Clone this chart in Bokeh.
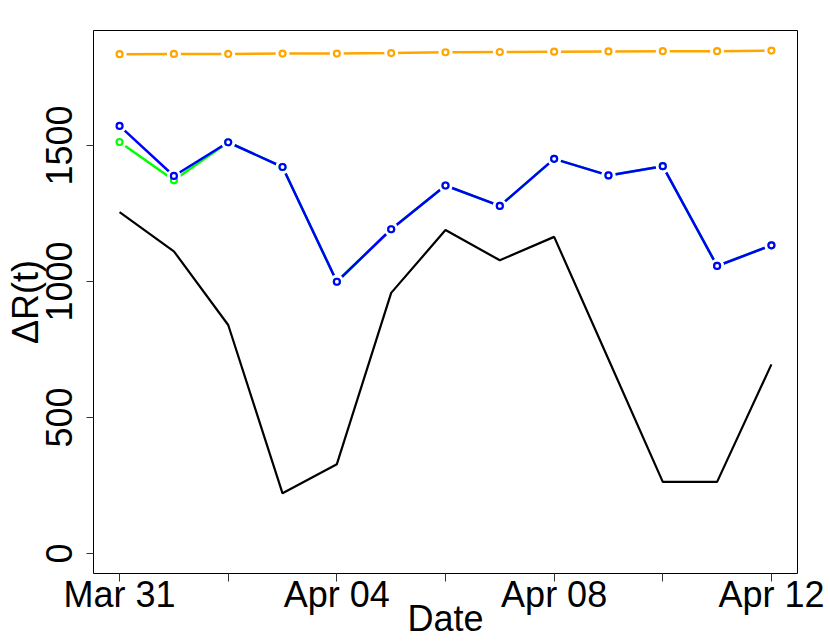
import pandas as pd
from bokeh.plotting import figure
from bokeh.models import Range1d, FixedTicker, DatetimeTickFormatter, ColumnDataSource
from bokeh.embed import file_html
from bokeh.resources import INLINE

# ---- data ----
dates = pd.date_range("2020-03-31", "2020-04-12", freq="D")
orange_vals = [1836, 1837, 1837, 1838, 1838, 1840, 1843, 1844, 1845, 1846, 1847, 1847, 1849]
blue_vals = [1572, 1388, 1512, 1421, 999, 1192, 1353, 1278, 1451, 1390, 1424, 1057, 1133]
green_vals = [1513, 1372, 1512, 1421, 999, 1192, 1353, 1278, 1451, 1390, 1424, 1057, 1133]
black_vals = [1255, 1111, 840, 221, 328, 958, 1189, 1078, 1164, 714, 263, 263, 695]
x_major = pd.to_datetime(["2020-03-31", "2020-04-04", "2020-04-08", "2020-04-12"])
x_minor = pd.to_datetime(["2020-04-02", "2020-04-06", "2020-04-10"])
y_ticks = [0, 500, 1000, 1500]

FONT = "Liberation Sans"
DAY = 86400000.0

def ms(t):
    return pd.Timestamp(t).value / 1e6

src = ColumnDataSource(dict(x=dates, orange=orange_vals, blue=blue_vals,
                            green=green_vals, black=black_vals))

x0 = ms(dates[0]) - 0.48 * DAY
x1 = ms(dates[-1]) + 0.48 * DAY

p = figure(width=830, height=642, x_axis_type="datetime",
           x_range=Range1d(x0, x1), y_range=Range1d(-74, 1923),
           output_backend="svg", toolbar_location=None,
           min_border_left=93, min_border_right=33,
           min_border_top=30, min_border_bottom=69)

p.grid.visible = False
p.background_fill_color = "white"
p.border_fill_color = "white"
p.outline_line_color = "black"
p.outline_line_width = 1

# x axis
p.xaxis.ticker = FixedTicker(ticks=[ms(t) for t in x_major], minor_ticks=[ms(t) for t in x_minor])
p.xaxis.formatter = DatetimeTickFormatter(days="%b %d", months="%b %d", hours="%b %d")
p.xaxis.axis_line_color = None
p.xaxis.major_tick_in = 0
p.xaxis.major_tick_out = 8
p.xaxis.minor_tick_in = 0
p.xaxis.minor_tick_out = 8
p.xaxis.major_tick_line_color = "#333333"
p.xaxis.minor_tick_line_color = "#333333"
p.xaxis.major_label_text_font = FONT
p.xaxis.major_label_text_font_size = "36px"
p.xaxis.major_label_text_color = "black"
p.xaxis.major_label_standoff = -8
p.xaxis.axis_label = "Date"
p.xaxis.axis_label_text_font = FONT
p.xaxis.axis_label_text_font_size = "36px"
p.xaxis.axis_label_text_font_style = "normal"
p.xaxis.axis_label_text_color = "black"
p.xaxis.axis_label_standoff = -20

# y axis
p.yaxis.ticker = FixedTicker(ticks=y_ticks, minor_ticks=[])
p.yaxis.axis_line_color = None
p.yaxis.major_tick_in = 0
p.yaxis.major_tick_out = 7
p.yaxis.major_tick_line_color = "#333333"
p.yaxis.major_label_orientation = "vertical"
p.yaxis.major_label_text_font = FONT
p.yaxis.major_label_text_font_size = "36px"
p.yaxis.major_label_text_color = "black"
p.yaxis.major_label_standoff = 14
p.yaxis.axis_label = "ΔR(t)"
p.yaxis.axis_label_text_font = FONT
p.yaxis.axis_label_text_font_size = "36px"
p.yaxis.axis_label_text_font_style = "normal"
p.yaxis.axis_label_text_color = "black"
p.yaxis.axis_label_standoff = -2

# lines
p.line("x", "black", source=src, color="black", line_width=2.2)
p.line("x", "green", source=src, color="#00FF00", line_width=2.5)
p.line("x", "blue", source=src, color="#0000FF", line_width=2.5)
p.line("x", "orange", source=src, color="#FFA500", line_width=2.5)

# gaps around points (type = "b")
for col in ["green", "blue", "orange"]:
    p.scatter("x", col, source=src, marker="circle", size=14,
              fill_color="white", line_color=None)

# open circles
for col, c in [("green", "#00FF00"), ("blue", "#0000FF"), ("orange", "#FFA500")]:
    p.scatter("x", col, source=src, marker="circle", size=6,
              fill_color="white", line_color=c, line_width=2.2)

open("out.html", "w").write(file_html(p, INLINE))
